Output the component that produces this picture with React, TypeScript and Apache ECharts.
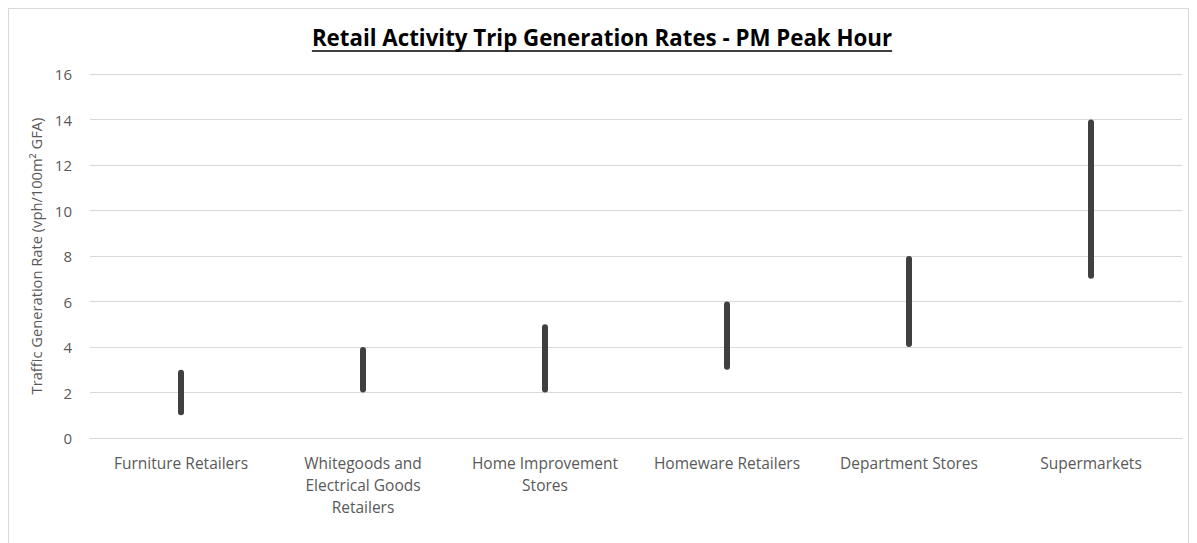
import React, { useEffect, useRef } from "react";
import * as echarts from "echarts";

const categories = [
  "Furniture Retailers",
  "Whitegoods and Electrical Goods Retailers",
  "Home Improvement Stores",
  "Homeware Retailers",
  "Department Stores",
  "Supermarkets",
];
const categoryLabels = [
  "Furniture Retailers",
  "Whitegoods and\nElectrical Goods\nRetailers",
  "Home Improvement\nStores",
  "Homeware Retailers",
  "Department Stores",
  "Supermarkets",
];
const lowValues = [1, 2, 2, 3, 4, 7];
const highValues = [3, 4, 5, 6, 8, 14];
const yTicks = [0, 2, 4, 6, 8, 10, 12, 14, 16];

const TITLE = "Retail Activity Trip Generation Rates - PM Peak Hour";
const FONT = "'Open Sans', sans-serif";
const TITLE_SIZE = 22.3;

export default function App() {
  const ref = useRef<HTMLDivElement>(null);
  useEffect(() => {
    if (!ref.current) return;
    const chart = echarts.init(ref.current, null, { renderer: "svg" });
    const canvas = document.createElement("canvas");
    const ctx = canvas.getContext("2d")!;
    ctx.font = `bold ${TITLE_SIZE}px 'Open Sans'`;
    const tw = ctx.measureText(TITLE).width;
    const cx = 593;
    const ranges = highValues.map((h, i) => h - lowValues[i]);
    chart.setOption({
      animation: false,
      grid: { left: 81, right: 6, top: 65, bottom: 105 },
      graphic: [
        {
          type: "text",
          x: cx,
          y: 28,
          style: {
            text: TITLE,
            textAlign: "center",
            textVerticalAlign: "middle",
            fontFamily: FONT,
            fontSize: TITLE_SIZE,
            fontWeight: "bold",
            fill: "#000",
          },
        },
        {
          type: "line",
          shape: { x1: cx - tw / 2, y1: 42, x2: cx + tw / 2, y2: 42 },
          style: { stroke: "#000", lineWidth: 1.5 },
        },
      ],
      xAxis: {
        type: "category",
        data: categories,
        axisLine: { show: true, lineStyle: { color: "#d9d9d9" } },
        axisTick: { show: false },
        axisLabel: {
          interval: 0,
          margin: 14,
          color: "#595959",
          fontFamily: FONT,
          fontSize: 15.5,
          lineHeight: 22,
          formatter: (_v: string, i: number) => categoryLabels[i],
        },
      },
      yAxis: {
        type: "value",
        min: yTicks[0],
        max: yTicks[yTicks.length - 1],
        interval: 2,
        name: "Traffic Generation Rate (vph/100m² GFA)",
        nameLocation: "middle",
        nameGap: 38,
        nameTextStyle: { color: "#595959", fontFamily: FONT, fontSize: 14.7 },
        axisLine: { show: false },
        axisTick: { show: false },
        splitLine: { lineStyle: { color: "#d9d9d9" } },
        axisLabel: { color: "#595959", fontFamily: FONT, fontSize: 15, margin: 18 },
      },
      series: [
        {
          type: "bar",
          stack: "r",
          data: lowValues,
          barWidth: 6,
          itemStyle: { color: "transparent" },
          silent: true,
        },
        {
          type: "bar",
          stack: "r",
          data: ranges,
          barWidth: 6,
          itemStyle: { color: "#404040", borderRadius: 3 },
        },
      ],
    });
    return () => chart.dispose();
  }, []);
  return (
    <div
      ref={ref}
      style={{
        width: 1181,
        height: 535,
        boxSizing: "border-box",
        border: "1px solid #d9d9d9",
        borderBottom: "none",
      }}
    />
  );
}
